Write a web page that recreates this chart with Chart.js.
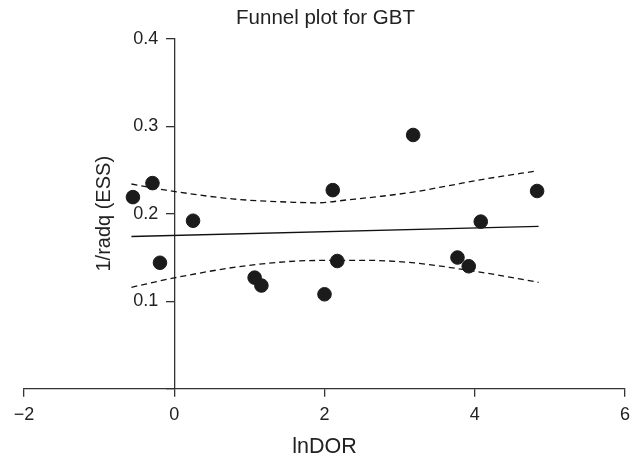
<!DOCTYPE html>
<html>
<head>
<meta charset="utf-8">
<script src="https://cdn.jsdelivr.net/npm/chart.js@4"></script>
<style>
  html, body { margin: 0; padding: 0; background: #fff; }
  #wrap { width: 637px; height: 464px; }
</style>
</head>
<body>
<div id="wrap"><canvas id="chart" width="637" height="464"></canvas></div>
<script>
// study points (lnDOR, 1/root(ESS))
const studyX = [-0.55, -0.29, 0.25, -0.19, 1.07, 1.16, 2.00, 2.11, 2.17, 3.18, 3.77, 3.92, 4.08, 4.83];
const studyY = [0.219, 0.235, 0.192, 0.144, 0.127, 0.118, 0.108, 0.227, 0.146, 0.290, 0.150, 0.140, 0.191, 0.226];

// regression line
const fitX = [-0.57, 4.85];
const fitY = [0.174, 0.1855];

// confidence bands (dashed)
const upperX = [-0.57, -0.11, 0.77, 1.66, 1.9, 2.32, 2.76, 3.2, 3.65, 4.09, 4.83];
const upperY = [0.234, 0.227, 0.217, 0.2129, 0.2125, 0.216, 0.220, 0.225, 0.232, 0.239, 0.249];
const lowerX = [-0.57, 0, 0.99, 1.88, 2.54, 3.2, 4.09, 4.85];
const lowerY = [0.116, 0.1267, 0.141, 0.1466, 0.1468, 0.1438, 0.133, 0.1217];

const xTicks = [-2, 0, 2, 4, 6];
const yTicks = [0, 0.1, 0.2, 0.3, 0.4];
const yTitle = "1/radq (ESS)";

const toPts = (xs, ys) => xs.map((x, i) => ({ x: x, y: ys[i] }));

const axisColor = "#333";
const textColor = "#222";
const font = "'Liberation Sans', Arial, sans-serif";

// the y axis sits at x = 0, so move its labels off the tick marks
// and write its title reading upwards
const yAxisFix = {
  id: "yAxisFix",
  beforeDraw(chart) {
    const s = chart.scales.y;
    const items = s.getLabelItems(chart.chartArea);
    if (!items._moved) {
      const shift = s.options.grid.tickLength + s.options.ticks.padding;
      items.forEach((it) => { it.options.translation[0] -= shift; });
      items._moved = true;
    }
  },
  afterDraw(chart) {
    const s = chart.scales.y;
    const c = chart.ctx;
    const x0 = chart.scales.x.getPixelForValue(0);
    c.save();
    c.translate(x0 - 70, (s.top + s.bottom) / 2);
    c.rotate(-Math.PI / 2);
    c.fillStyle = textColor;
    c.font = "20px " + font;
    c.textAlign = "center";
    c.textBaseline = "middle";
    c.fillText(yTitle, 0, 0);
    c.restore();
  },
};

const ctx = document.getElementById("chart").getContext("2d");
const chart = new Chart(ctx, {
  type: "scatter",
  data: {
    datasets: [
      {
        data: toPts(studyX, studyY),
        backgroundColor: "#1b1b1b",
        borderColor: "#1b1b1b",
        pointRadius: 6.8,
        pointHoverRadius: 6.8,
      },
      {
        type: "line",
        data: toPts(fitX, fitY),
        borderColor: "#111",
        borderWidth: 1.3,
        pointRadius: 0,
        fill: false,
      },
      {
        type: "line",
        data: toPts(upperX, upperY),
        borderColor: "#111",
        borderWidth: 1.3,
        borderDash: [6, 4],
        pointRadius: 0,
        cubicInterpolationMode: "monotone",
        fill: false,
      },
      {
        type: "line",
        data: toPts(lowerX, lowerY),
        borderColor: "#111",
        borderWidth: 1.3,
        borderDash: [6, 4],
        pointRadius: 0,
        cubicInterpolationMode: "monotone",
        fill: false,
      },
    ],
  },
  options: {
    responsive: false,
    animation: false,
    layout: { padding: { left: 24, right: 10, top: 0, bottom: 3.8 } },
    plugins: {
      legend: { display: false },
      tooltip: { enabled: false },
      title: {
        display: true,
        text: "Funnel plot for GBT",
        color: textColor,
        font: { family: font, size: 20.5, weight: "normal" },
        padding: { top: 5.7, bottom: 8.4 },
      },
    },
    scales: {
      x: {
        type: "linear",
        position: "bottom",
        min: -2,
        max: 6,
        afterBuildTicks: (s) => { s.ticks = xTicks.map((v) => ({ value: v })); },
        ticks: {
          color: textColor,
          padding: 7,
          font: { family: font, size: 18 },
          callback: (v) => (v < 0 ? "\u2212" + Math.abs(v) : String(v)),
        },
        grid: { drawOnChartArea: false, drawTicks: true, tickLength: 8, color: axisColor, lineWidth: 1.3 },
        border: { display: true, color: axisColor, width: 1.3 },
        title: {
          display: true,
          text: "lnDOR",
          color: textColor,
          font: { family: font, size: 21.5 },
          padding: { top: 2, bottom: 0 },
        },
      },
      y: {
        type: "linear",
        position: { x: 0 },
        min: 0,
        max: 0.4,
        afterBuildTicks: (s) => { s.ticks = yTicks.map((v) => ({ value: v })); },
        ticks: {
          color: textColor,
          padding: 8,
          font: { family: font, size: 18 },
          callback: (v) => (v === 0 ? "" : v.toFixed(1)),
        },
        grid: { drawOnChartArea: false, drawTicks: true, tickLength: 8, color: axisColor, lineWidth: 1.3 },
        border: { display: true, color: axisColor, width: 1.3 },
      },
    },
  },
  plugins: [yAxisFix],
});
</script>
</body>
</html>
